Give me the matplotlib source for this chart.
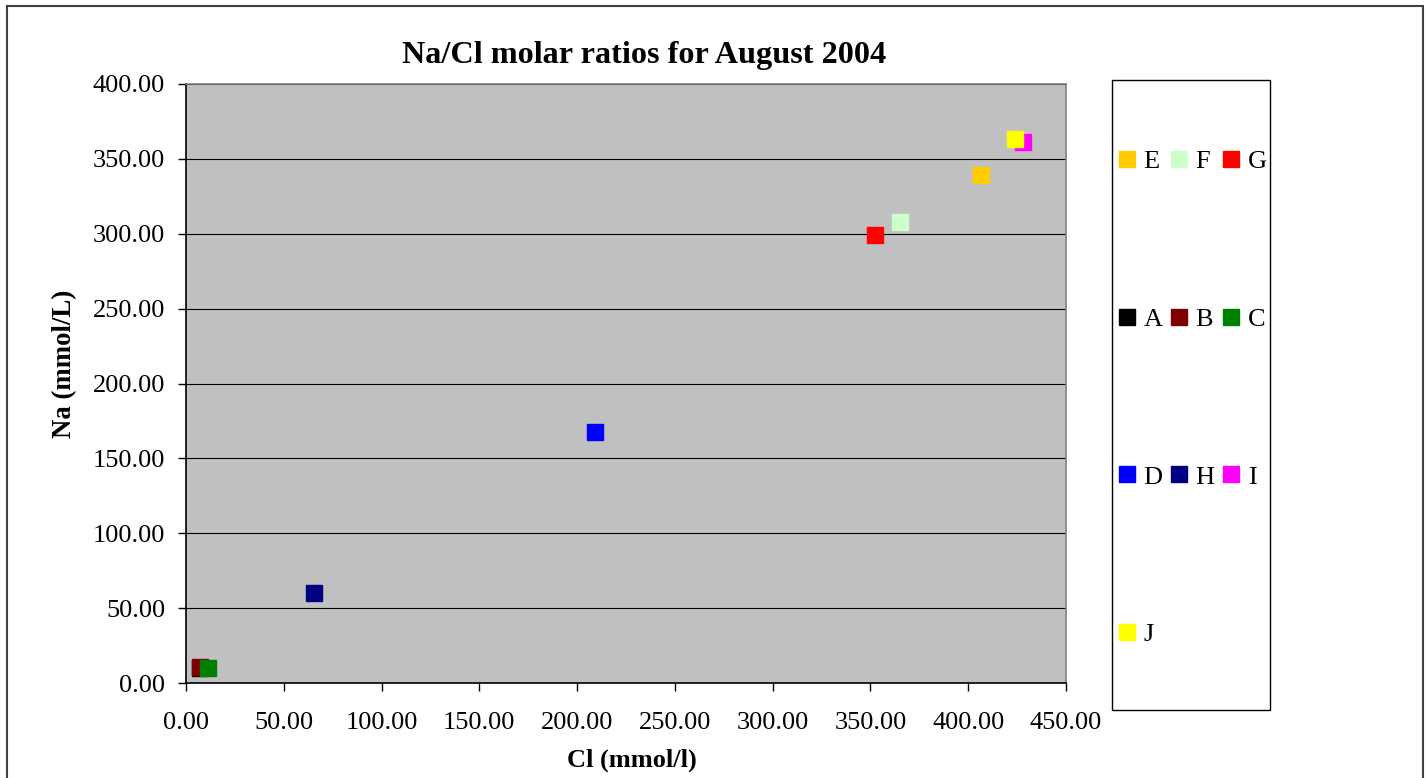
import matplotlib
matplotlib.use("Agg")
import matplotlib.pyplot as plt
from matplotlib.patches import Rectangle
from matplotlib.ticker import FormatStrFormatter

plt.rcParams['font.family'] = ['Liberation Serif', 'DejaVu Serif']

# sampling sites, in the order the series were added
sites = ["E", "F", "G", "A", "B", "C", "D", "H", "I", "J"]
cl = [406.5, 365.1, 352.3, 7.0, 7.4, 11.3, 209.1, 65.5, 428.0, 423.9]
na = [339.2, 307.8, 299.2, 10.0, 10.7, 9.7, 167.6, 60.1, 361.5, 363.3]
colors = ["#FFCC00", "#CCFFCC", "#FF0000", "#000000", "#800000",
          "#008000", "#0000FF", "#000080", "#FF00FF", "#FFFF00"]

W, H = 1428, 778
fig = plt.figure(figsize=(W/100, H/100), dpi=100)

# outer chart border
fig.patches.append(Rectangle((7/W, -0.05), (1423-7)/W, 1.05 - 6/H,
                             transform=fig.transFigure, fill=False,
                             edgecolor="#404040", lw=1.5))

ax = fig.add_axes([186/W, 1-683/H, (1066-186)/W, (683-84)/H])
ax.set_facecolor("#C0C0C0")

for x, y, c, s in zip(cl, na, colors, sites):
    ax.plot([x], [y], linestyle="none", marker="s", markersize=11,
            color=c, markeredgecolor=c, label=s, zorder=3)

ax.set_xlim(0, 450)
ax.set_ylim(0, 400)
ax.set_xticks(range(0, 451, 50))
ax.set_yticks(range(0, 401, 50))
ax.xaxis.set_major_formatter(FormatStrFormatter("%.2f"))
ax.yaxis.set_major_formatter(FormatStrFormatter("%.2f"))
ax.tick_params(axis="x", direction="out", length=6, width=1, pad=15, labelsize=19)
ax.tick_params(axis="y", direction="out", length=6, width=1, pad=9, labelsize=19)
ax.yaxis.grid(True, color="black", lw=0.8)
ax.set_axisbelow(True)
for side in ["top", "right"]:
    ax.spines[side].set_color("#808080")
    ax.spines[side].set_linewidth(1.2)
for side in ["left", "bottom"]:
    ax.spines[side].set_color("black")
    ax.spines[side].set_linewidth(1.2)

fig.text(644/W, 1-55/H, "Na/Cl molar ratios for August 2004",
         ha="center", va="center", fontsize=23.2, fontweight="bold")
fig.text(632/W, 1-760/H, "Cl (mmol/l)", ha="center", va="center",
         fontsize=19, fontweight="bold")
fig.text(65/W, 1-364/H, "Na (mmol/L)", ha="center", va="center",
         rotation=90, fontsize=19.3, fontweight="bold")

# legend box drawn separately so it can span the full height
fig.patches.append(Rectangle((1112/W, 1-710/H), (1270-1112)/W, (710-80)/H,
                             transform=fig.transFigure, fill=False,
                             edgecolor="black", lw=1))

# reorder so the entries read row by row across three columns
handles, labels = ax.get_legend_handles_labels()
order = [0, 3, 6, 9, 1, 4, 7, 2, 5, 8]
fig.legend([handles[i] for i in order], [labels[i] for i in order],
           ncol=3, frameon=False, loc="upper left",
           bbox_to_anchor=(1116/W, 1-150/H), fontsize=19, markerscale=1.1,
           handlelength=0.85, handletextpad=0.2, columnspacing=0.2,
           labelspacing=5.08, borderpad=0, borderaxespad=0)

fig.savefig("out.png", dpi=100)
